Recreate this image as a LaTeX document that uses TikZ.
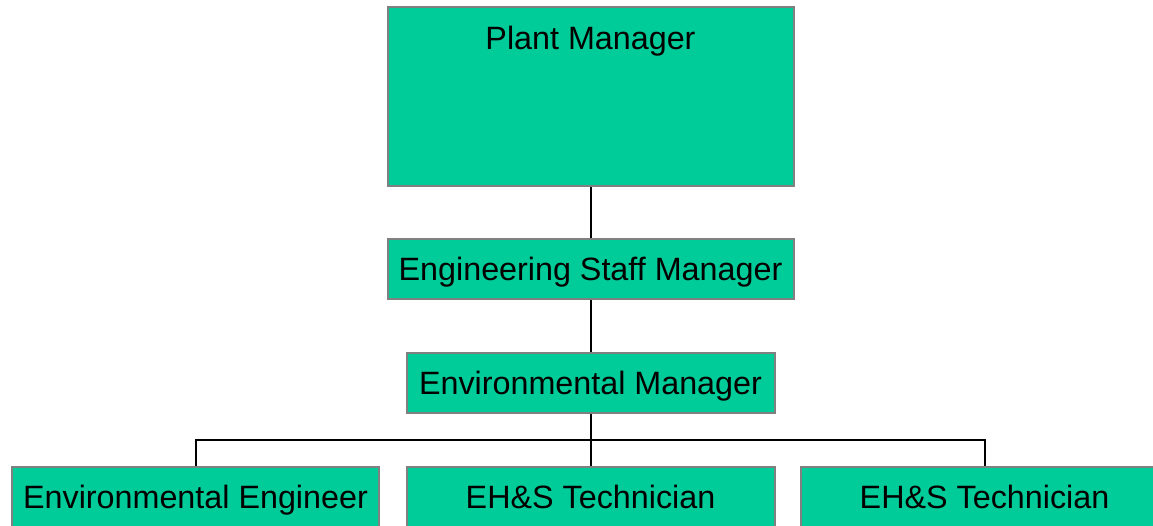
\documentclass[tikz,border=0pt]{standalone}
\usepackage{fontspec}
\setmainfont{Liberation Sans}
\definecolor{boxfill}{HTML}{00CC99}
\definecolor{boxline}{HTML}{808080}
\begin{document}
\begin{tikzpicture}[x=1pt,y=-1pt,
  orgbox/.style={draw=boxline, line width=2pt, fill=boxfill, rectangle, inner sep=0pt,
    font=\fontsize{32.3}{38}\selectfont, text height=23pt, text depth=0pt},
  conn/.style={draw=black, line width=2pt}]
\useasboundingbox (0,0) rectangle (1153,525);
\clip (0,0) rectangle (1153,525);
\node[orgbox, minimum width=406pt, minimum height=179pt] (pm) at (590.5,96.5) {};
\node[font=\fontsize{32.3}{38}\selectfont, text height=23pt, text depth=0pt, inner sep=0pt] (pmt) at (590.5,37.5) {Plant Manager};
\node[orgbox, minimum width=406pt, minimum height=60pt] (esm) at (590.5,269) {Engineering Staff Manager};
\node[orgbox, minimum width=368pt, minimum height=60pt] (em) at (590.5,383) {Environmental Manager};
\node[orgbox, minimum width=367pt, minimum height=60pt] (ee) at (195.5,497) {Environmental Engineer};
\node[orgbox, minimum width=368pt, minimum height=60pt] (t1) at (590.5,497) {EH\&S Technician};
\node[orgbox, minimum width=367pt, minimum height=60pt] (t2) at (984.5,497) {EH\&S Technician};
\coordinate (bus) at (590.5,440);
\draw[conn] (pm.south) -- (esm.north);
\draw[conn] (esm.south) -- (em.north);
\draw[conn] (em.south) -- (t1.north);
\draw[conn] (ee.north) |- (bus) -| (t2.north);
\end{tikzpicture}
\end{document}
